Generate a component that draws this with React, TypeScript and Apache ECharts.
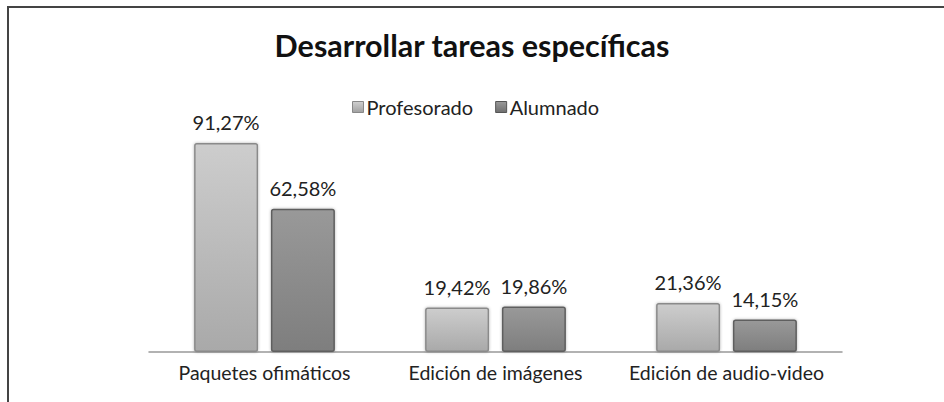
import React, { useEffect, useRef } from "react";
import * as echarts from "echarts";

const categories = ["Paquetes ofimáticos", "Edición de imágenes", "Edición de audio-video"];
const profesorado = [91.27, 19.42, 21.36];
const alumnado = [62.58, 19.86, 14.15];
const seriesNames = ["Profesorado", "Alumnado"];

const fmt = (v: number) => v.toFixed(2).replace(".", ",") + "%";

export default function App() {
  const ref = useRef<HTMLDivElement>(null);
  useEffect(() => {
    if (!ref.current) return;
    const chart = echarts.init(ref.current, null, { renderer: "svg" });
    const vgrad = (a: string, b: string) =>
      new echarts.graphic.LinearGradient(0, 0, 0, 1, [
        { offset: 0, color: a },
        { offset: 1, color: b },
      ]);
    const font = "Lato, 'Open Sans', sans-serif";
    const labelCfg = {
      show: true,
      position: "top",
      distance: 11,
      fontSize: 20,
      color: "#222",
      fontFamily: font,
      formatter: (p: any) => fmt(p.value),
    };
    chart.setOption({
      animation: false,
      backgroundColor: "#ffffff",
      textStyle: { fontFamily: font },
      title: {
        text: "Desarrollar tareas específicas",
        left: "center",
        top: 24,
        textStyle: { fontSize: 30.5, fontWeight: "bold", color: "#111", fontFamily: font },
      },
      legend: {
        data: [
          { name: seriesNames[0], itemStyle: { color: vgrad("#d0d0d0", "#a0a0a0"), borderColor: "#888", borderWidth: 1 } },
          { name: seriesNames[1], itemStyle: { color: vgrad("#9a9a9a", "#6e6e6e"), borderColor: "#555", borderWidth: 1 } },
        ],
        top: 92,
        left: 347,
        itemWidth: 11,
        itemHeight: 11,
        itemGap: 22,
        icon: "rect",
        textStyle: { fontSize: 20, color: "#222", fontFamily: font, padding: [0, 0, 0, -2] },
      },
      grid: { left: 149, right: 102, top: 123, bottom: 50 },
      xAxis: {
        type: "category",
        data: categories,
        axisLine: { lineStyle: { color: "#999", width: 1.5 } },
        axisTick: { show: false },
        axisLabel: {
          interval: 0,
          hideOverlap: false,
          fontSize: 19.5,
          color: "#222",
          margin: 10,
          fontFamily: font,
        },
      },
      yAxis: {
        type: "value",
        min: 0,
        max: 100,
        show: false,
        splitLine: { show: false },
      },
      graphic: [
        { type: "line", shape: { x1: 8, y1: 7, x2: 944, y2: 7 }, style: { stroke: "#444", lineWidth: 2 } },
        { type: "line", shape: { x1: 8, y1: 6, x2: 8, y2: 402 }, style: { stroke: "#444", lineWidth: 2 } },
      ],
      series: [
        {
          name: seriesNames[0],
          type: "bar",
          data: profesorado,
          barWidth: 64,
          barGap: "20%",
          itemStyle: {
            color: vgrad("#cdcdcd", "#a9a9a9"),
            borderColor: "#8a8a8a",
            borderWidth: 1.5,
            borderRadius: 2,
            shadowColor: "rgba(0,0,0,0.3)",
            shadowBlur: 3,
          },
          label: labelCfg,
        },
        {
          name: seriesNames[1],
          type: "bar",
          data: alumnado,
          barWidth: 64,
          itemStyle: {
            color: vgrad("#999999", "#7e7e7e"),
            borderColor: "#5e5e5e",
            borderWidth: 1.5,
            borderRadius: 2,
            shadowColor: "rgba(0,0,0,0.3)",
            shadowBlur: 3,
          },
          label: labelCfg,
        },
      ],
    });
    return () => chart.dispose();
  }, []);
  return (
    <div
      ref={ref}
      style={{ position: "fixed", left: 0, top: 0, width: 944, height: 402 }}
    />
  );
}
